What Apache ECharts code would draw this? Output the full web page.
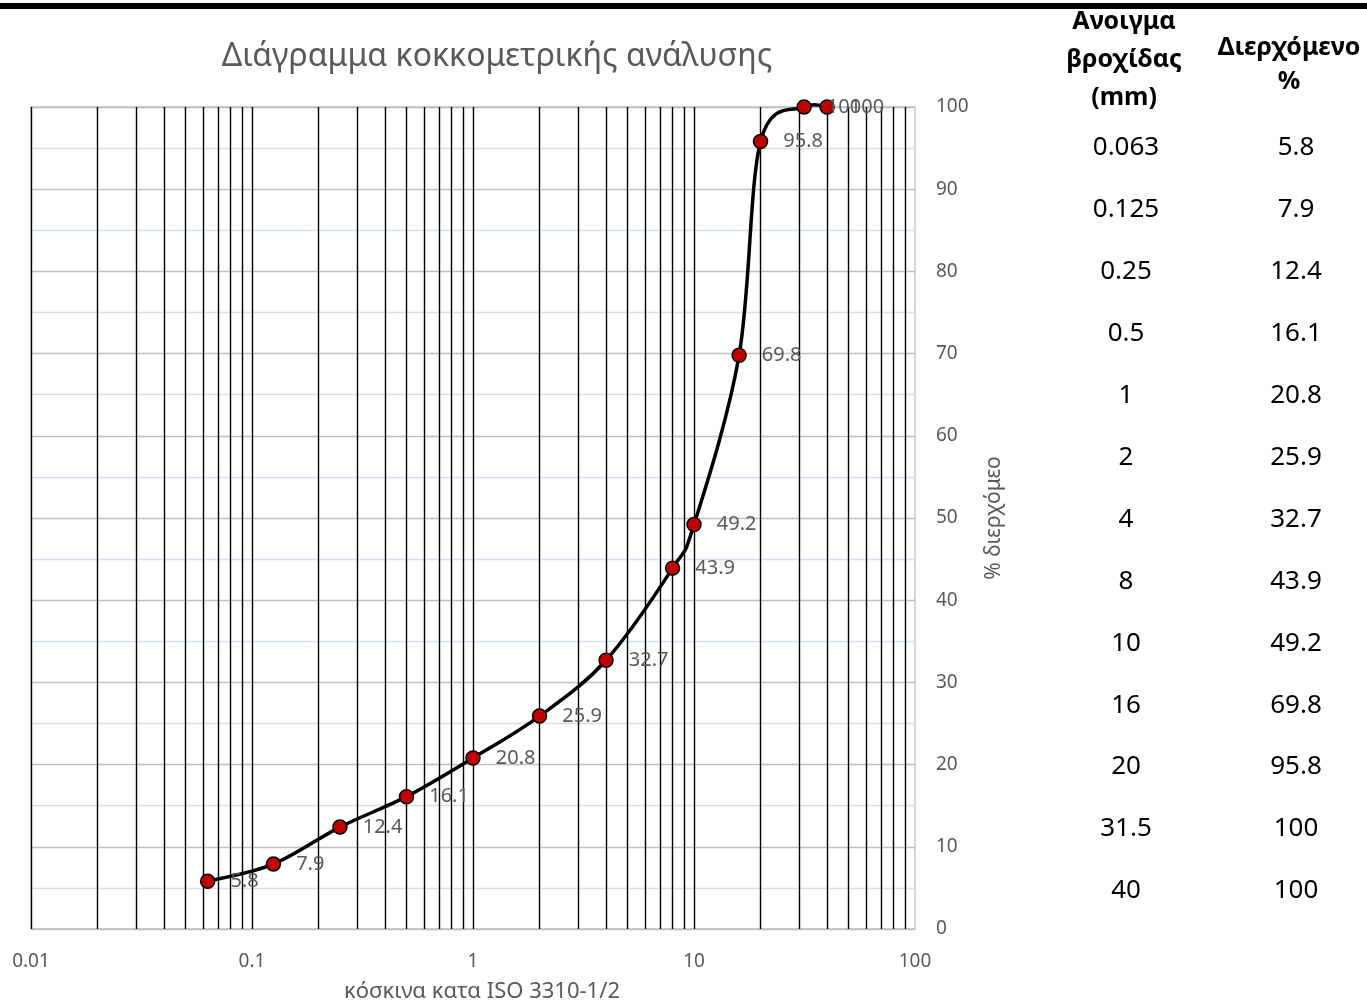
<!DOCTYPE html>
<html>
<head>
<meta charset="utf-8">
<script src="https://cdn.jsdelivr.net/npm/echarts@6/dist/echarts.min.js"></script>
<style>
html,body{margin:0;padding:0;background:#fff;}
#chart{width:1367px;height:1004px;}
</style>
</head>
<body>
<div id="chart"></div>
<script>
// ---- data ----
var titleText = 'Διάγραμμα κοκκομετρικής ανάλυσης';
var xAxisName = 'κόσκινα κατα ISO 3310-1/2';
var yAxisName = '% διερχόμεο';
var sieveSizes = [0.063, 0.125, 0.25, 0.5, 1, 2, 4, 8, 10, 16, 20, 31.5, 40];
var passingPct = [5.8, 7.9, 12.4, 16.1, 20.8, 25.9, 32.7, 43.9, 49.2, 69.8, 95.8, 100, 100];
var sizeLabels = ['0.063', '0.125', '0.25', '0.5', '1', '2', '4', '8', '10', '16', '20', '31.5', '40'];
var pctLabels = ['5.8', '7.9', '12.4', '16.1', '20.8', '25.9', '32.7', '43.9', '49.2', '69.8', '95.8', '100', '100'];
var tableHeader1 = ['Ανοιγμα', 'βροχίδας', '(mm)'];
var tableHeader2 = ['Διερχόμενο', '%'];
var xTickLabels = ['0.01', '0.1', '1', '10', '100'];
var verticalGridValues = [0.01, 0.02, 0.03, 0.04, 0.05, 0.06, 0.07, 0.08, 0.09,
  0.1, 0.2, 0.3, 0.4, 0.5, 0.6, 0.7, 0.8, 0.9,
  1, 2, 3, 4, 5, 6, 7, 8, 9,
  10, 20, 30, 40, 50, 60, 70, 80, 90];

// ---- chart ----
var FONT = '"Noto Sans", "Open Sans", sans-serif';
var chart = echarts.init(document.getElementById('chart'), null, {renderer: 'canvas'});

var seriesData = sieveSizes.map(function (s, i) { return [s, passingPct[i]]; });

var graphics = [
  {type: 'rect', shape: {x: 0, y: 3, width: 1367, height: 6}, style: {fill: '#000'}},
  {type: 'text', x: 497, y: 57, style: {text: titleText, font: '32px ' + FONT, fill: '#595959', textAlign: 'center', textVerticalAlign: 'middle'}},
  {type: 'text', x: 1124, y: 60, style: {text: tableHeader1.join('\n'), font: 'bold 25px ' + FONT, lineHeight: 38, fill: '#000', textAlign: 'center', textVerticalAlign: 'middle'}},
  {type: 'text', x: 1289, y: 65, style: {text: tableHeader2.join('\n'), font: 'bold 25px ' + FONT, lineHeight: 34, fill: '#000', textAlign: 'center', textVerticalAlign: 'middle'}}
];
sizeLabels.forEach(function (t, i) {
  var y = 148 + i * 61.9;
  graphics.push({type: 'text', x: 1126, y: y, style: {text: t, font: '26px ' + FONT, fill: '#000', textAlign: 'center', textVerticalAlign: 'middle'}});
  graphics.push({type: 'text', x: 1296, y: y, style: {text: pctLabels[i], font: '26px ' + FONT, fill: '#000', textAlign: 'center', textVerticalAlign: 'middle'}});
});

// smooth curve (Catmull-Rom style, like spreadsheet smoothed lines) through the data via the axes
function renderCurve(params, api) {
  var pts = seriesData.map(function (d) { return api.coord(d); });
  var n = pts.length;
  var children = [];
  var k = 1 / 6;
  for (var i = 0; i < n - 1; i++) {
    var p0 = pts[Math.max(i - 1, 0)], p1 = pts[i], p2 = pts[i + 1], p3 = pts[Math.min(i + 2, n - 1)];
    children.push({
      type: 'bezierCurve',
      shape: {
        x1: p1[0], y1: p1[1], x2: p2[0], y2: p2[1],
        cpx1: p1[0] + (p2[0] - p0[0]) * k, cpy1: p1[1] + (p2[1] - p0[1]) * k,
        cpx2: p2[0] - (p3[0] - p1[0]) * k, cpy2: p2[1] - (p3[1] - p1[1]) * k
      },
      style: {stroke: '#000', lineWidth: 3.5, fill: null, lineCap: 'round'}
    });
  }
  return {type: 'group', children: children};
}

var option = {
  backgroundColor: '#fff',
  animation: false,
  textStyle: {fontFamily: FONT},
  grid: {left: 31, right: 452, top: 107, bottom: 75, show: true, borderColor: '#bfbfbf', borderWidth: 1.3,
    backgroundColor: 'transparent', containLabel: false, outerBoundsMode: 'none'},
  xAxis: {
    type: 'log', logBase: 10, min: 0.01, max: 100,
    name: xAxisName, nameLocation: 'middle', nameGap: 52,
    nameTextStyle: {color: '#595959', fontSize: 22, fontFamily: FONT, padding: [0, 0, 0, 18]},
    axisLine: {show: false}, axisTick: {show: false}, splitLine: {show: false},
    axisLabel: {color: '#595959', fontSize: 19, margin: 23, fontFamily: FONT,
      formatter: function (v) {
        var idx = Math.round(Math.log10(v)) + 2;
        return xTickLabels[idx] !== undefined ? xTickLabels[idx] : '';
      }}
  },
  yAxis: {
    type: 'value', position: 'right', min: 0, max: 100, interval: 10,
    name: yAxisName, nameLocation: 'middle', nameRotate: 90, nameGap: 69,
    nameTextStyle: {color: '#595959', fontSize: 21, fontFamily: FONT},
    axisLine: {show: false}, axisTick: {show: false},
    axisLabel: {color: '#595959', fontSize: 19, margin: 21, fontFamily: FONT},
    splitLine: {show: true, lineStyle: {color: '#bfbfbf', width: 1.3}},
    minorTick: {show: false, splitNumber: 2},
    minorSplitLine: {show: true, lineStyle: {color: '#d3dff0', width: 1.3}}
  },
  graphic: graphics,
  series: [
    {
      type: 'line', z: 1, data: [], silent: true, symbol: 'none',
      markLine: {
        silent: true, symbol: ['none', 'none'], animation: false,
        label: {show: false},
        lineStyle: {color: '#000', width: 1.4, type: 'solid'},
        emphasis: {disabled: true},
        data: verticalGridValues.map(function (v) { return {xAxis: v}; })
      }
    },
    {
      type: 'custom', z: 4, silent: true, clip: false,
      data: [[sieveSizes[0], passingPct[0]]],
      renderItem: renderCurve
    },
    {
      type: 'scatter', z: 5, data: seriesData,
      symbol: 'circle', symbolSize: 14,
      itemStyle: {color: '#c00000', borderColor: '#000', borderWidth: 1.5, opacity: 1},
      label: {show: true, position: 'right', distance: 15, color: '#595959', fontSize: 20, fontFamily: FONT,
        formatter: function (p) { return pctLabels[p.dataIndex]; }},
      emphasis: {disabled: true}
    }
  ]
};
chart.setOption(option);
</script>
</body>
</html>
